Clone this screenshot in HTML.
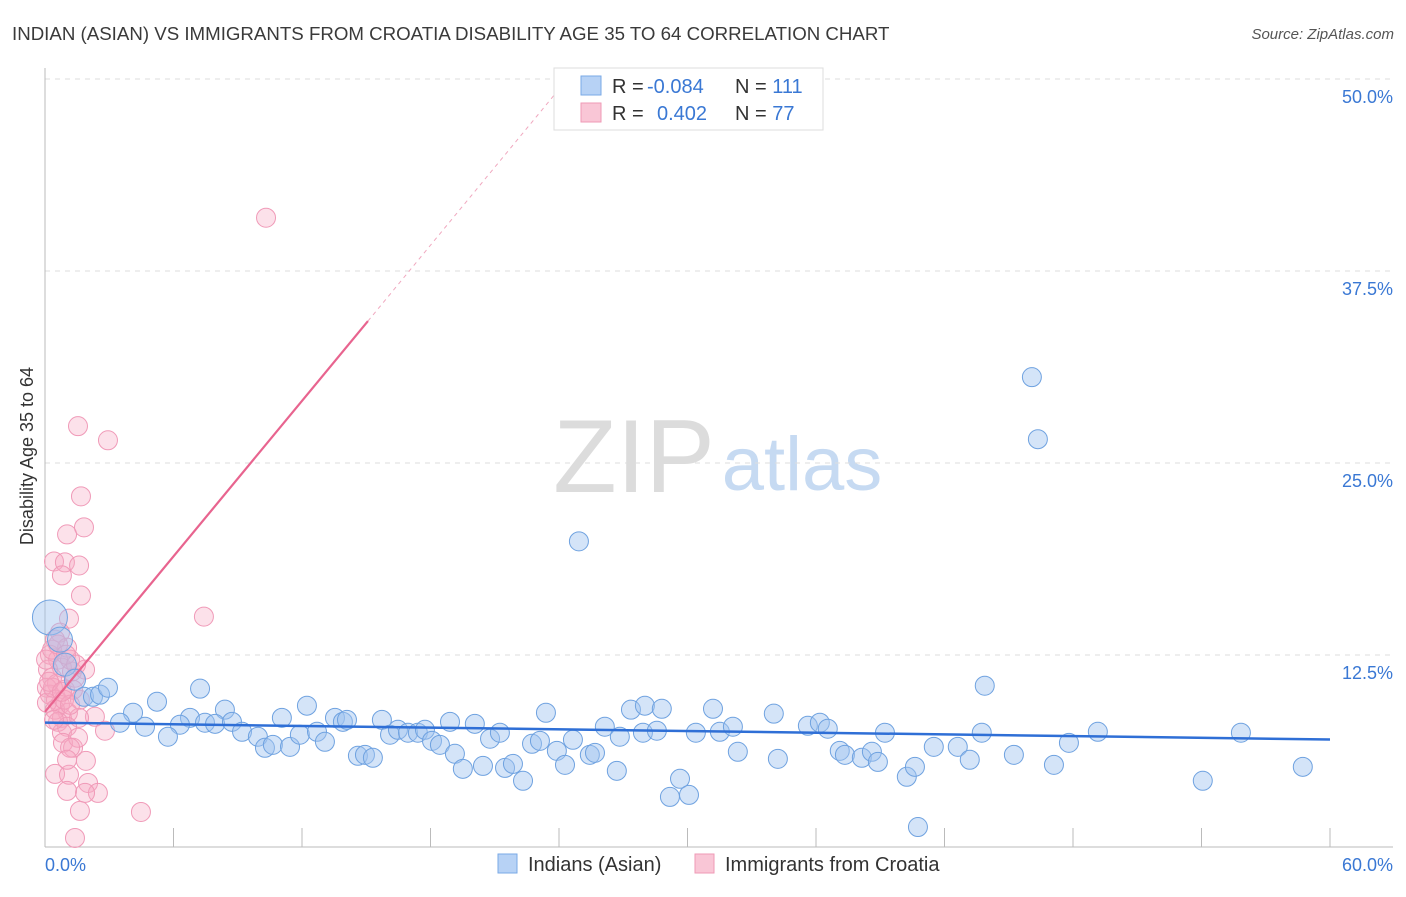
<!DOCTYPE html>
<html><head><meta charset="utf-8"><style>
body{margin:0;background:#fff;font-family:"Liberation Sans",sans-serif;}
svg text{font-family:"Liberation Sans",sans-serif;}
</style></head><body>
<svg id="chart" width="1406" height="892" xmlns="http://www.w3.org/2000/svg">
<text x="12" y="40" font-size="18.7" fill="#3a3a3a">INDIAN (ASIAN) VS IMMIGRANTS FROM CROATIA DISABILITY AGE 35 TO 64 CORRELATION CHART</text>
<text x="1394" y="39" font-size="15" fill="#555" text-anchor="end" font-style="italic">Source: ZipAtlas.com</text>
<text transform="translate(33,456) rotate(-90)" font-size="18" fill="#333" text-anchor="middle">Disability Age 35 to 64</text>
<g>
<text x="634" y="492" font-size="104" fill="#dcdcdc" text-anchor="middle" font-family="Liberation Serif, serif">ZIP</text>
<text x="802" y="490" font-size="76" fill="#c6daf2" text-anchor="middle">atlas</text>
</g>
<g id="grid"></g><g id="axes"></g><g id="pts"></g><g id="lines"></g>
<g>
<rect x="554" y="68" width="269" height="62" fill="#fff" stroke="#ddd"/>
<rect x="581" y="76" width="20" height="19" fill="#b7d2f5" stroke="#7aa9e6"/>
<rect x="581" y="103" width="20" height="19" fill="#f9c6d6" stroke="#ef9ab6"/>
<text x="612" y="93" font-size="20" fill="#333">R = <tspan fill="#3a78d4" x="647">-0.084</tspan></text>
<text x="735" y="93" font-size="20" fill="#333">N = <tspan fill="#3a78d4">111</tspan></text>
<text x="612" y="120" font-size="20" fill="#333">R = <tspan fill="#3a78d4" x="657">0.402</tspan></text>
<text x="735" y="120" font-size="20" fill="#333">N = <tspan fill="#3a78d4">77</tspan></text>
</g>
<g>
<rect x="498" y="854" width="19" height="19" fill="#b7d2f5" stroke="#7aa9e6"/>
<text x="528" y="871" font-size="20" fill="#333">Indians (Asian)</text>
<rect x="695" y="854" width="19" height="19" fill="#f9c6d6" stroke="#ef9ab6"/>
<text x="725" y="871" font-size="20" fill="#333">Immigrants from Croatia</text>
</g>
</svg>
<script>
const yTicks=[12.5,25,37.5,50];
const yTickLabels=["12.5%","25.0%","37.5%","50.0%"];
const xTicks=[0,6,12,18,24,30,36,42,48,54,60];
const blueX=[46.08,46.36,24.93,43.88,0.23,0.70,0.93,1.40,1.82,2.24,2.57,2.94,4.11,5.23,7.24,8.40,6.77,6.30,4.67,3.50,5.74,7.47,7.94,8.73,9.20,9.94,10.27,10.64,11.06,11.44,11.90,12.23,12.70,13.07,13.54,13.91,14.10,14.61,14.94,15.31,15.73,16.11,16.48,16.95,17.41,17.74,18.07,18.44,18.91,19.14,19.51,20.07,20.45,20.78,21.24,21.48,21.85,22.32,22.74,23.11,23.39,23.90,24.28,24.65,25.44,25.68,26.70,26.14,26.84,27.36,28.01,27.92,28.57,28.80,29.18,29.65,30.07,30.39,31.19,31.51,32.12,32.35,34.03,34.22,35.62,36.18,36.55,37.11,37.35,38.14,38.61,38.89,39.22,40.24,40.62,40.76,41.50,42.62,43.18,43.74,45.24,47.11,47.81,49.16,54.06,55.84,58.73];
const blueY=[30.59,26.55,19.90,10.50,14.94,13.50,11.87,10.89,9.78,9.78,9.92,10.37,8.74,9.46,10.31,8.94,8.41,7.96,7.83,8.09,7.18,8.09,8.02,8.15,7.50,7.18,6.46,6.65,8.41,6.52,7.31,9.20,7.50,6.85,8.41,8.15,8.28,5.94,6.00,5.81,8.28,7.31,7.63,7.44,7.44,7.63,6.91,6.65,8.15,6.07,5.09,8.02,5.28,7.05,7.44,5.15,5.41,4.31,6.72,6.91,8.74,6.26,5.35,6.98,6.00,6.13,4.96,7.83,7.18,8.94,9.20,7.44,7.57,9.00,3.26,4.44,3.39,7.44,9.00,7.50,7.83,6.20,8.68,5.74,7.89,8.09,7.70,6.26,6.00,5.81,6.20,5.54,7.44,4.57,5.22,1.30,6.52,6.52,5.68,7.44,6.00,5.35,6.78,7.50,4.31,7.44,5.22];
const blueR=[10,10,10,10,18,13,12,11,10,10,10,10,10,10,10,10,10,10,10,10,10,10,10,10,10,10,10,10,10,10,10,10,10,10,10,10,10,10,10,10,10,10,10,10,10,10,10,10,10,10,10,10,10,10,10,10,10,10,10,10,10,10,10,10,10,10,10,10,10,10,10,10,10,10,10,10,10,10,10,10,10,10,10,10,10,10,10,10,10,10,10,10,10,10,10,10,10,10,10,10,10,10,10,10,10,10,10];
const pinkX=[10.32,1.54,2.94,1.68,1.82,1.03,0.42,0.93,1.59,0.79,1.68,1.12,7.42,0.70,0.47,1.03,0.23,0.61,0.79,0.14,1.26,0.33,0.56,0.09,0.93,0.23,0.51,0.70,0.09,0.37,1.40,1.63,1.07,0.79,0.47,0.61,2.33,1.59,2.80,1.03,0.79,0.84,1.31,1.54,1.91,0.47,1.12,1.03,2.01,2.47,1.87,1.63,4.48,1.40,0.05,1.17,0.33,1.31,0.89,0.19,0.61,0.98,1.17,0.42,1.87,1.45,0.79,1.17,1.03];
const pinkY=[40.97,27.40,26.48,22.83,20.81,20.35,18.59,18.53,18.33,17.68,16.37,14.87,15.00,13.96,13.50,12.98,12.52,12.20,11.68,11.55,11.42,11.02,10.63,10.37,10.24,9.92,9.59,9.26,9.39,10.37,11.02,9.59,8.74,8.41,8.94,8.15,8.48,8.41,7.57,7.83,7.44,6.78,6.46,7.11,5.61,4.76,4.70,3.65,4.17,3.52,3.52,2.35,2.28,0.59,12.20,12.20,12.85,10.24,9.59,10.76,13.18,12.52,9.26,8.28,11.55,11.87,10.11,6.46,5.68];
const blueTrend=[[0,8.1],[60,7.0]];
const pinkTrendSolid=[[0,8.8],[15.08,34.24]];
const pinkTrendDash=[[15.08,34.24],[24.04,49.4]];

const X0=45,XS=(1330-45)/60,Y0=847,YS=(847-655)/12.5;
const sx=v=>X0+v*XS, sy=v=>Y0-v*YS;
const NS="http://www.w3.org/2000/svg";
function mk(tag,parent,attrs){const e=document.createElementNS(NS,tag);for(const k in attrs)e.setAttribute(k,attrs[k]);parent.appendChild(e);return e;}
const grid=document.getElementById('grid'),axes=document.getElementById('axes'),pts=document.getElementById('pts'),lines=document.getElementById('lines');
yTicks.forEach((t,i)=>{
  const l=mk('line',grid,{x1:X0,x2:1393,y1:sy(t),y2:sy(t),stroke:'#ddd','stroke-dasharray':'5,5'});
  
  
  const tx=mk('text',grid,{x:1393,y:sy(t)+24,'font-size':18,fill:'#3a78d4','text-anchor':'end'});
  tx.textContent=yTickLabels[i];
  
  
});
const ya=mk('line',axes,{x1:X0,x2:X0,y1:68,y2:Y0,stroke:'#bbb'});


const xa=mk('line',axes,{x1:X0,x2:1393,y1:Y0,y2:Y0,stroke:'#bbb'});


xTicks.forEach(t=>{
  const l=mk('line',axes,{x1:sx(t),x2:sx(t),y1:Y0,y2:Y0-19,stroke:'#bbb'});
  
  
});
const xl0=mk('text',axes,{x:45,y:871,'font-size':18,fill:'#3a78d4'});xl0.textContent='0.0%';


const xl1=mk('text',axes,{x:1393,y:871,'font-size':18,fill:'#3a78d4','text-anchor':'end'});xl1.textContent='60.0%';


pinkX.forEach((x,i)=>{
  const c=mk('circle',pts,{cx:sx(x),cy:sy(pinkY[i]),r:9.5,fill:'rgba(246,170,196,0.35)',stroke:'#f09ab8','stroke-width':1});
  
  
});
blueX.forEach((x,i)=>{
  const c=mk('circle',pts,{cx:sx(x),cy:sy(blueY[i]),r:blueR[i]-0.5,fill:'rgba(160,196,240,0.45)',stroke:'#6fa2e0','stroke-width':1});
  
  
});
const bl=mk('line',lines,{x1:sx(blueTrend[0][0]),y1:sy(blueTrend[0][1]),x2:sx(blueTrend[1][0]),y2:sy(blueTrend[1][1]),stroke:'#2f6fd6','stroke-width':2.5});


const pl=mk('line',lines,{x1:sx(pinkTrendSolid[0][0]),y1:sy(pinkTrendSolid[0][1]),x2:sx(pinkTrendSolid[1][0]),y2:sy(pinkTrendSolid[1][1]),stroke:'#e8648f','stroke-width':2.2});


const pd=mk('line',lines,{x1:sx(pinkTrendDash[0][0]),y1:sy(pinkTrendDash[0][1]),x2:sx(pinkTrendDash[1][0]),y2:sy(pinkTrendDash[1][1]),stroke:'#f0a8bf','stroke-width':1,'stroke-dasharray':'4,4'});


</script>
</body></html>
